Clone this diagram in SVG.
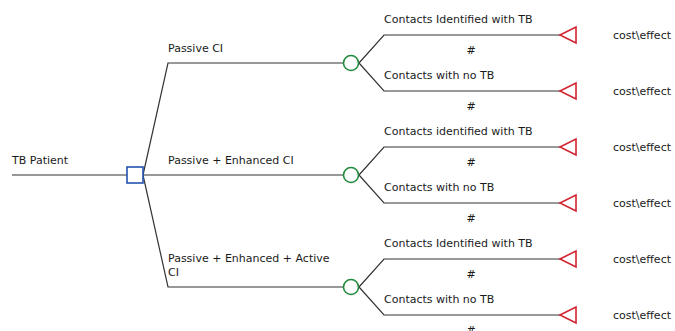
<svg xmlns="http://www.w3.org/2000/svg" width="675" height="331" viewBox="0 0 675 331">
<style>
text{font-family:"DejaVu Sans","Liberation Sans",sans-serif;font-size:11px;fill:#1a1a1a}
.ln{fill:none;stroke:#333;stroke-width:1.2}
.dec{fill:#fff;stroke:#2453b0;stroke-width:1.6}
.ch{fill:#fff;stroke:#218a3c;stroke-width:1.6}
.term{fill:#fff;stroke:#d42330;stroke-width:1.6}
.h{text-anchor:middle}
</style>
<rect width="675" height="331" fill="#fff"/>
<g id="connectors">
<path class="ln" d="M12 175H127"/>
<path class="ln" d="M143 175L168 63H343"/>
<path class="ln" d="M143 175H343"/>
<path class="ln" d="M143 175L168 287H343"/>
<path class="ln" d="M359 63L384 35H560M359 63L384 91H560"/>
<path class="ln" d="M359 175L384 147H560M359 175L384 203H560"/>
<path class="ln" d="M359 287L384 259H560M359 287L384 315H560"/>
</g>
<g id="root"><text x="12" y="164">TB Patient</text></g>
<g id="decision"><rect class="dec" x="127" y="167" width="16" height="16"/></g>
<g id="branch-passive"><text x="168" y="52">Passive CI</text></g>
<g id="branch-enhanced"><text x="168" y="164">Passive + Enhanced CI</text></g>
<g id="branch-active"><text x="168" y="262">Passive + Enhanced + Active</text><text x="168" y="276">CI</text></g>
<g id="chance1"><circle class="ch" cx="351" cy="63" r="7.5"/></g>
<g id="chance2"><circle class="ch" cx="351" cy="175" r="7.5"/></g>
<g id="chance3"><circle class="ch" cx="351" cy="287" r="7.5"/></g>
<g id="out1a"><text x="384" y="23">Contacts Identified with TB</text><text class="h" x="471" y="54">#</text><path class="term" d="M560 35L576 27V43Z"/><text x="613" y="39">cost\effect</text></g>
<g id="out1b"><text x="384" y="79">Contacts with no TB</text><text class="h" x="471" y="110">#</text><path class="term" d="M560 91L576 83V99Z"/><text x="613" y="95">cost\effect</text></g>
<g id="out2a"><text x="384" y="135">Contacts identified with TB</text><text class="h" x="471" y="166">#</text><path class="term" d="M560 147L576 139V155Z"/><text x="613" y="151">cost\effect</text></g>
<g id="out2b"><text x="384" y="191">Contacts with no TB</text><text class="h" x="471" y="222">#</text><path class="term" d="M560 203L576 195V211Z"/><text x="613" y="207">cost\effect</text></g>
<g id="out3a"><text x="384" y="247">Contacts Identified with TB</text><text class="h" x="471" y="278">#</text><path class="term" d="M560 259L576 251V267Z"/><text x="613" y="263">cost\effect</text></g>
<g id="out3b"><text x="384" y="303">Contacts with no TB</text><text class="h" x="471" y="334">#</text><path class="term" d="M560 315L576 307V323Z"/><text x="613" y="319">cost\effect</text></g>
</svg>
